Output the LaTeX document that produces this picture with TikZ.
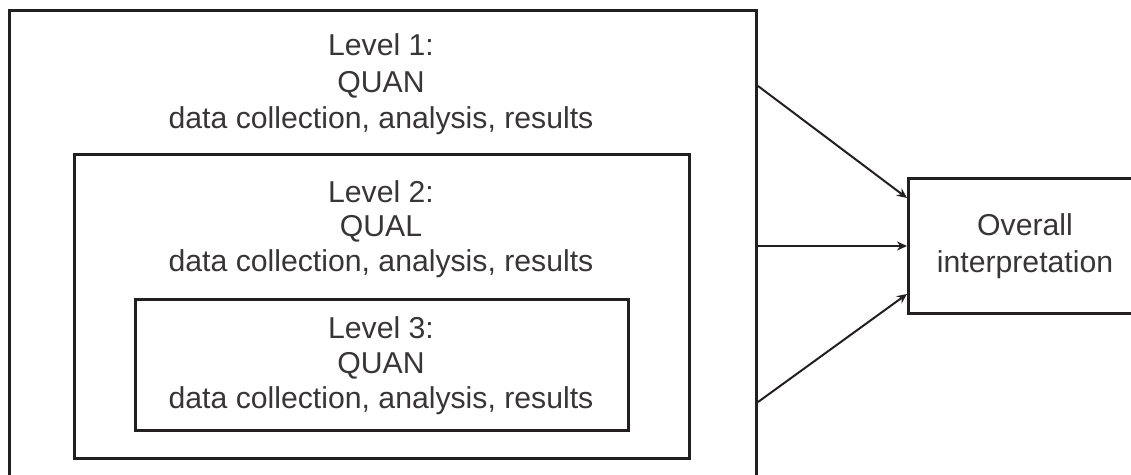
\documentclass[tikz,border=0pt]{standalone}
\usepackage{fontspec}
\newfontfamily\labelfont{Liberation Sans}
\usetikzlibrary{arrows.meta,calc}
\definecolor{ink}{HTML}{231F20}
\begin{document}
\begin{tikzpicture}[x=1pt,y=-1pt,
  box/.style={draw=ink, line width=3pt, inner sep=0pt, anchor=north west},
  lbl/.style={anchor=base, inner sep=0pt, text=ink!90,
    font=\labelfont\fontsize{30.2}{36}\selectfont},
  arr/.style={draw=ink, line width=2pt, -{Stealth[length=10pt,width=9pt]}}]
\useasboundingbox (0,0) rectangle (1131,474);

% nested level boxes
\node[box, minimum width=747pt, minimum height=481pt] (outer) at (8,9) {};
\node[box, minimum width=615pt, minimum height=304pt] (middle) at (73,153) {};
\node[box, minimum width=493pt, minimum height=131pt] (inner) at (134,298) {};

% interpretation box
\node[box, minimum width=236pt, minimum height=135pt] (ov) at (907,177) {};

% level 1 text
\node[lbl] (t1a) at (381,55) {Level 1:};
\node[lbl] (t1b) at (381,92) {QUAN};
\node[lbl] (t1c) at (381,128) {data collection, analysis, results};
% level 2 text
\node[lbl] (t2a) at (381,202) {Level 2:};
\node[lbl] (t2b) at (381,236) {QUAL};
\node[lbl] (t2c) at (381,271) {data collection, analysis, results};
% level 3 text
\node[lbl] (t3a) at (381,338) {Level 3:};
\node[lbl] (t3b) at (381,373) {QUAN};
\node[lbl] (t3c) at (381,408) {data collection, analysis, results};
% interpretation text
\node[lbl] (o1) at (1025,235) {Overall};
\node[lbl] (o2) at (1025,272) {interpretation};

% arrow start points on the outer box
\coordinate (s1) at ($(outer.north east)+(0,77)$);
\coordinate (s2) at (outer.east |- ov.west);
\coordinate (s3) at ($(outer.north east)+(0,393)$);

\draw[arr] (s1) -- ([yshift=48pt]ov.west);
\draw[arr] (s2) -- (ov.west);
\draw[arr] (s3) -- ([yshift=-48pt]ov.west);
\end{tikzpicture}
\end{document}
